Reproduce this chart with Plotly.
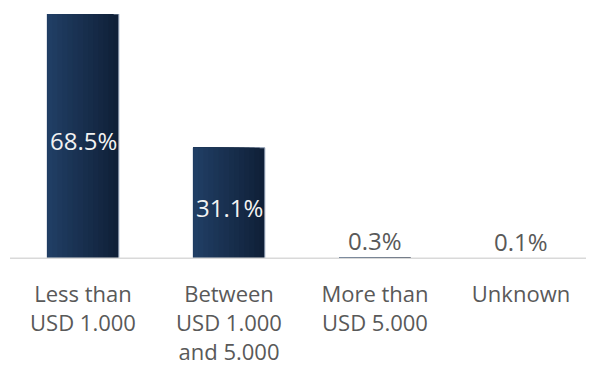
import plotly.graph_objects as go

categories = ["Less than<br>USD 1.000", "Between<br>USD 1.000<br>and 5.000", "More than<br>USD 5.000", "Unknown"]
values = [68.5, 31.1, 0.3, 0.1]
labels = ["68.5%", "31.1%", "0.3%", "0.1%"]
inside = [True, True, False, False]

BAR_W = 0.49
dark = (16, 32, 56)
light = (32, 62, 100)
N = 14

fig = go.Figure()
for i in range(N):
    t = i / (N - 1)
    c = tuple(round(dark[k] + (light[k] - dark[k]) * t) for k in range(3))
    w = BAR_W * (1 - i / N)
    fig.add_trace(go.Bar(
        x=categories, y=values,
        width=[w] * 4, offset=[-BAR_W / 2] * 4,
        marker=dict(color="rgb(%d,%d,%d)" % c,
                    line=dict(width=[1 if (i == 0 and f) else 0 for f in inside],
                              color="#8c9bb0")),
        hoverinfo="skip", showlegend=False,
    ))

for cat, v, lab, f in zip(categories, values, labels, inside):
    if f:
        fig.add_annotation(x=cat, y=v / 2, text=lab, showarrow=False,
                           yanchor="middle", yshift=-4,
                           font=dict(color="#f2f2f2", size=24, family="Open Sans"))
    else:
        fig.add_annotation(x=cat, y=v, text=lab, showarrow=False,
                           yanchor="bottom", yshift=-1,
                           font=dict(color="#595959", size=24, family="Open Sans"))

# baseline (category axis line) drawn over the bars
fig.add_shape(type="line", xref="paper", yref="y", x0=0, x1=1, y0=0, y1=0,
              line=dict(color="#d9d9d9", width=3), layer="above")

fig.update_layout(
    width=586, height=365,
    barmode="overlay",
    margin=dict(l=2, r=0, t=6, b=114, autoexpand=False),
    plot_bgcolor="white", paper_bgcolor="white",
    xaxis=dict(showline=False,
               tickfont=dict(color="#595959", size=22, family="Open Sans"),
               ticks="outside", ticklen=16, tickcolor="rgba(0,0,0,0)",
               showgrid=False, automargin=False),
    yaxis=dict(range=[0, 68.5], visible=False, automargin=False),
)
fig.write_html("out.html")
